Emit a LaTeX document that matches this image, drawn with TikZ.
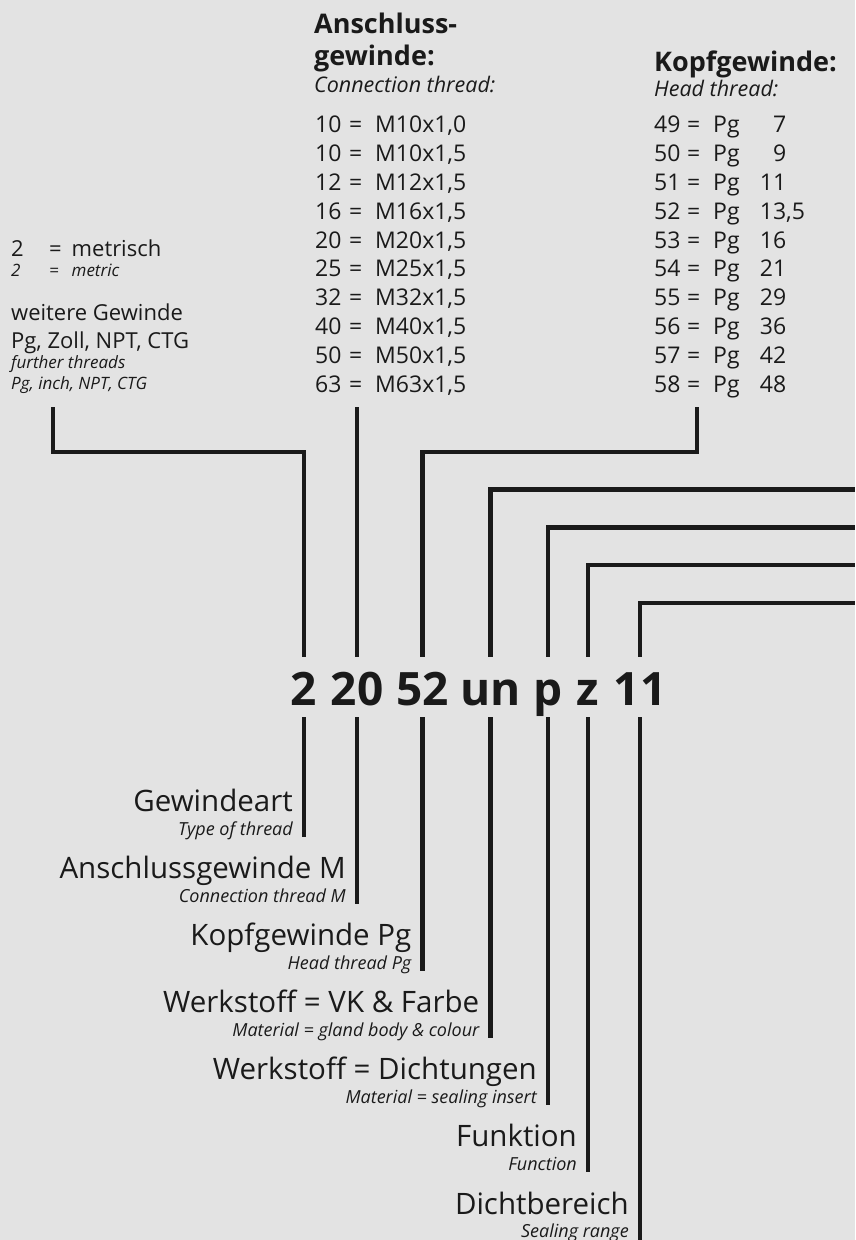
\documentclass[tikz,border=0pt]{standalone}
\usepackage{fontspec}
\setmainfont{Open Sans}
\usepackage{tikz}

\definecolor{bggray}{HTML}{E3E3E3}
\definecolor{ink}{HTML}{1A1A1A}

\newcommand\connrow[2]{\makebox[34pt][l]{#1}\makebox[26pt][l]{=}#2}
\newcommand\headrow[3]{\makebox[33pt][l]{#1}\makebox[26pt][l]{=}\makebox[47pt][l]{Pg}\makebox[26pt][r]{#2}#3}
\newcommand\metrow[2]{\makebox[38pt][l]{#1}\makebox[22.5pt][l]{=}#2}

\begin{document}
\begin{tikzpicture}[
    x=1pt, y=-1pt,
    conn/.style={line width=4.5pt, draw=ink, line join=miter},
    code/.style={font=\fontsize{46}{46}\selectfont\bfseries, text=ink, inner sep=0pt, text height=48pt, text depth=12pt, anchor=base},
    title/.style={font=\fontsize{29.5}{32}\selectfont, text=ink, inner sep=0pt, anchor=base east},
    sub/.style={font=\fontsize{18}{20}\selectfont\itshape, text=ink, inner sep=0pt, anchor=base east},
    head/.style={font=\fontsize{27}{31.7}\selectfont\bfseries, text=ink, inner sep=0pt, anchor=base west, align=left},
    headsub/.style={font=\fontsize{21.5}{24}\selectfont\itshape, text=ink, inner sep=0pt, anchor=base west},
    tab/.style={font=\fontsize{23}{28.8}\selectfont, text=ink, inner sep=0pt, anchor=base west, align=left},
    left/.style={font=\fontsize{22}{28.3}\selectfont, text=ink, inner sep=0pt, anchor=base west, align=left},
    note/.style={font=\fontsize{17}{21}\selectfont\itshape, text=ink, inner sep=0pt, anchor=base west, align=left},
]
    \fill[bggray] (0,0) rectangle (855,1240);
    \useasboundingbox (0,0) rectangle (855,1240);

    \node[left] (metr) at (11,256) {\metrow{2}{metrisch}};
    \node[note] (metrsub) at (11,276.7) {\metrow{2}{metric}};
    \node[left] (more) at (11,348.3) {weitere Gewinde\\Pg, Zoll, NPT, CTG};
    \node[note] (moresub) at (11,389.3) {further threads\\Pg, inch, NPT, CTG};

    \node[head] (connhead) at (314,65) {Anschluss-\\gewinde:};
    \node[headsub] (connsub) at (314,92.7) {Connection thread:};
    \node[tab] (conntab) at (315,392) {\connrow{10}{M10x1,0}\\\connrow{10}{M10x1,5}\\\connrow{12}{M12x1,5}\\\connrow{16}{M16x1,5}\\\connrow{20}{M20x1,5}\\\connrow{25}{M25x1,5}\\\connrow{32}{M32x1,5}\\\connrow{40}{M40x1,5}\\\connrow{50}{M50x1,5}\\\connrow{63}{M63x1,5}};

    \node[head] (headhead) at (654,71.7) {Kopfgewinde:};
    \node[headsub] (headsub) at (654,96.7) {Head thread:};
    \node[tab] (headtab) at (654,392) {\headrow{49}{7}{}\\\headrow{50}{9}{}\\\headrow{51}{11}{}\\\headrow{52}{13}{,5}\\\headrow{53}{16}{}\\\headrow{54}{21}{}\\\headrow{55}{29}{}\\\headrow{56}{36}{}\\\headrow{57}{42}{}\\\headrow{58}{48}{}};

    \node[code] (c2) at (304,705) {2};
    \node[code] (c20) at (357,705) {20};
    \node[code] (c52) at (422.5,705) {52};
    \node[code] (cun) at (490.5,705) {un};
    \node[code] (cp) at (548,705) {p};
    \node[code] (cz) at (588,705) {z};
    \node[code] (c11) at (640,705) {11};

    \coordinate (typeend) at (53,407);
    \coordinate (connend) at (357,407);
    \coordinate (headend) at (697,407);
    \coordinate (lvl) at (0,452);
    \coordinate (unend) at (855,489.5);
    \coordinate (pend) at (855,527.5);
    \coordinate (zend) at (855,565);
    \coordinate (rngend) at (855,603);

    \draw[conn] (typeend) -- (typeend |- lvl) -| (c2.north);
    \draw[conn] (connend) -- (c20.north);
    \draw[conn] (headend) -- (headend |- lvl) -| (c52.north);
    \draw[conn] (cun.north) |- (unend);
    \draw[conn] (cp.north) |- (pend);
    \draw[conn] (cz.north) |- (zend);
    \draw[conn] (c11.north) |- (rngend);

    \coordinate (gartend) at (304,837);
    \coordinate (anschend) at (357,904);
    \coordinate (kopfend) at (422.5,971);
    \coordinate (vkend) at (490.5,1038);
    \coordinate (dichtend) at (548,1105);
    \coordinate (funkend) at (588,1172);
    \coordinate (bereichend) at (640,1240);

    \draw[conn] (c2.south) -- (gartend);
    \draw[conn] (c20.south) -- (anschend);
    \draw[conn] (c52.south) -- (kopfend);
    \draw[conn] (cun.south) -- (vkend);
    \draw[conn] (cp.south) -- (dichtend);
    \draw[conn] (cz.south) -- (funkend);
    \draw[conn] (c11.south) -- (bereichend);

    \node[title] (gart) at ([xshift=-11pt,yshift=25.3pt]gartend) {Gewindeart};
    \node[sub] (gartsub) at ([xshift=-11pt,yshift=1.5pt]gartend) {Type of thread};
    \node[title] (ansch) at ([xshift=-11pt,yshift=25.3pt]anschend) {Anschlussgewinde M};
    \node[sub] (anschsub) at ([xshift=-11pt,yshift=1.5pt]anschend) {Connection thread M};
    \node[title] (kopf) at ([xshift=-11pt,yshift=25.3pt]kopfend) {Kopfgewinde Pg};
    \node[sub] (kopfsub) at ([xshift=-11pt,yshift=1.5pt]kopfend) {Head thread Pg};
    \node[title] (vk) at ([xshift=-11pt,yshift=25.3pt]vkend) {Werkstoff = VK \& Farbe};
    \node[sub] (vksub) at ([xshift=-11pt,yshift=1.5pt]vkend) {Material = gland body \& colour};
    \node[title] (dicht) at ([xshift=-11pt,yshift=25.3pt]dichtend) {Werkstoff = Dichtungen};
    \node[sub] (dichtsub) at ([xshift=-11pt,yshift=1.5pt]dichtend) {Material = sealing insert};
    \node[title] (funk) at ([xshift=-11pt,yshift=25.3pt]funkend) {Funktion};
    \node[sub] (funksub) at ([xshift=-11pt,yshift=1.5pt]funkend) {Function};
    \node[title] (bereich) at ([xshift=-11pt,yshift=25.3pt]bereichend) {Dichtbereich};
    \node[sub] (bereichsub) at ([xshift=-11pt,yshift=3pt]bereichend) {Sealing range};
\end{tikzpicture}
\end{document}
